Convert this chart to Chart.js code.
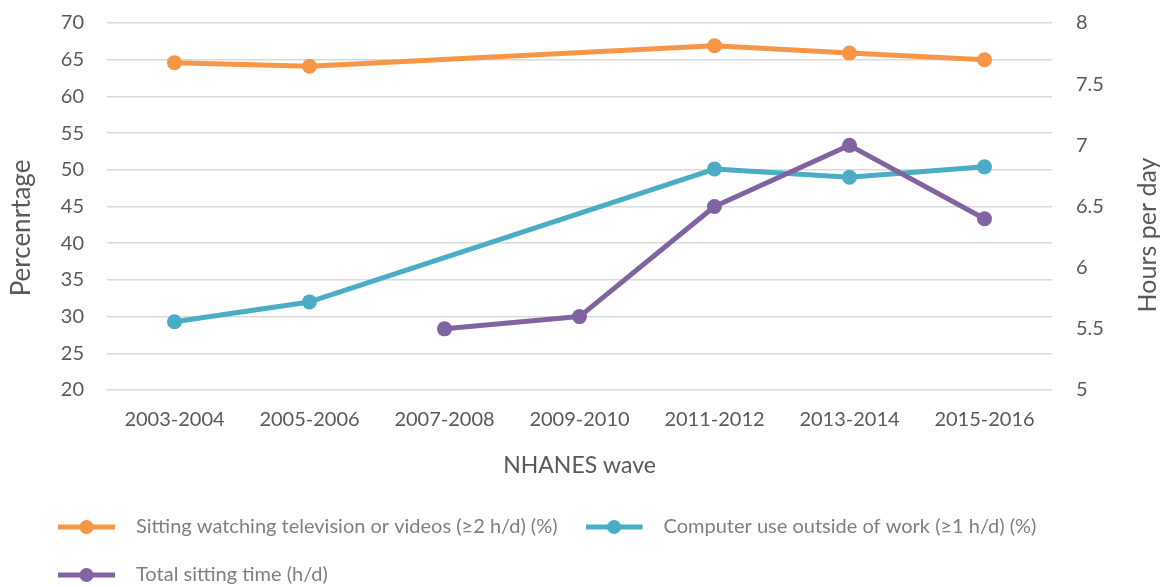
<!DOCTYPE html>
<html>
<head>
<meta charset="utf-8">
<script src="https://cdn.jsdelivr.net/npm/chart.js"></script>
<style>
  html, body { margin: 0; padding: 0; background: #fff; }
</style>
</head>
<body>
<canvas id="myChart" width="1167" height="587"></canvas>
<script>
// NHANES waves on the x axis
const waves = ["2003-2004", "2005-2006", "2007-2008", "2009-2010", "2011-2012", "2013-2014", "2015-2016"];

// series (null = not measured in that wave)
const tvPct = [64.6, 64.1, null, null, 66.9, 65.9, 65.0];
const computerPct = [29.3, 32.0, null, null, 50.1, 49.0, 50.4];
const sittingHours = [null, null, 5.5, 5.6, 6.5, 7.0, 6.4];

const seriesNames = [
    "Sitting watching television or videos (\u22652 h/d) (%)",
    "Computer use outside of work (\u22651 h/d) (%)",
    "Total sitting time (h/d)"
];
const seriesColors = ["#F79646", "#4BACC6", "#8064A2"];

// axis ranges / ticks
const pctTicks = [20, 25, 30, 35, 40, 45, 50, 55, 60, 65, 70];
const hourTicks = [5, 5.5, 6, 6.5, 7, 7.5, 8];

const xTitle = "NHANES wave";
const leftTitle = "Percenrtage";
const rightTitle = "Hours per day";

const fontFamily = "Lato, 'Open Sans', sans-serif";
const textGray = "#595959";

// legend icon: line with a dot, like the Excel legend
function legendIcon(color) {
    const c = document.createElement("canvas");
    c.width = 68;
    c.height = 18;
    const g = c.getContext("2d");
    g.strokeStyle = color;
    g.lineWidth = 5;
    g.beginPath();
    g.moveTo(0, 9);
    g.lineTo(57, 9);
    g.stroke();
    g.fillStyle = color;
    g.beginPath();
    g.arc(28.5, 9, 7, 0, Math.PI * 2);
    g.fill();
    return c;
}
const icons = seriesColors.map(legendIcon);

// y axis titles read bottom-to-top on both sides
const yTitles = {
    id: "yTitles",
    afterDraw(chart) {
        const ctx = chart.ctx;
        const area = chart.chartArea;
        const put = (text, size, x, y) => {
            ctx.save();
            ctx.fillStyle = textGray;
            ctx.font = size + "px " + fontFamily;
            ctx.textAlign = "center";
            ctx.textBaseline = "middle";
            ctx.translate(x, y);
            ctx.rotate(-Math.PI / 2);
            ctx.fillText(text, 0, 0);
            ctx.restore();
        };
        put(leftTitle, 26, area.left - 85, area.top + 205);
        put(rightTitle, 25, area.right + 96, area.top + 212);
    }
};

function makeSet(i, data, axis) {
    return {
        label: seriesNames[i],
        data: data,
        yAxisID: axis,
        borderColor: seriesColors[i],
        backgroundColor: seriesColors[i],
        borderWidth: 5,
        borderJoinStyle: "round",
        pointRadius: 7.5,
        pointHoverRadius: 7.5,
        pointBorderWidth: 0,
        pointBackgroundColor: seriesColors[i],
        spanGaps: true,
        tension: 0,
        order: 3 - i
    };
}

new Chart("myChart", {
    type: "line",
    data: {
        labels: waves,
        datasets: [
            makeSet(0, tvPct, "y"),
            makeSet(1, computerPct, "y"),
            makeSet(2, sittingHours, "y1")
        ]
    },
    options: {
        responsive: false,
        animation: false,
        devicePixelRatio: 1,
        layout: { padding: { left: 30, right: 0, top: 23, bottom: -8 } },
        font: { family: fontFamily },
        scales: {
            x: {
                offset: true,
                grid: { display: false },
                border: { display: false },
                ticks: { color: textGray, font: { family: fontFamily, size: 20 }, padding: 10, maxRotation: 0 },
                title: {
                    display: true,
                    text: xTitle,
                    color: textGray,
                    font: { family: fontFamily, size: 23 },
                    padding: { top: 0, bottom: 10 }
                },
                afterFit: s => { s.height = 99; }
            },
            y: {
                position: "left",
                min: pctTicks[0],
                max: pctTicks[pctTicks.length - 1],
                // invisible tick marks give the label gap without padding the chart top
                grid: { color: "#d9d9d9", lineWidth: 1.5, drawTicks: true, tickLength: 23, tickColor: "rgba(0,0,0,0)" },
                border: { display: false },
                ticks: {
                    stepSize: pctTicks[1] - pctTicks[0],
                    color: textGray,
                    font: { family: fontFamily, size: 20 },
                    padding: 0
                },
                afterFit: s => { s.width = 77; }
            },
            y1: {
                position: "right",
                min: hourTicks[0],
                max: hourTicks[hourTicks.length - 1],
                grid: { drawOnChartArea: false, drawTicks: true, tickLength: 24, tickColor: "rgba(0,0,0,0)" },
                border: { display: false },
                ticks: {
                    stepSize: hourTicks[1] - hourTicks[0],
                    color: textGray,
                    font: { family: fontFamily, size: 20 },
                    padding: 0,
                    callback: v => String(+v.toFixed(1))
                },
                afterFit: s => { s.width = 115; }
            }
        },
        plugins: {
            tooltip: { enabled: false },
            legend: {
                position: "bottom",
                align: "start",
                labels: {
                    usePointStyle: true,
                    pointStyleWidth: 68,
                    padding: 28,
                    color: "#7f7f7f",
                    font: { family: fontFamily, size: 20 },
                    sort: (a, b) => a.datasetIndex - b.datasetIndex,
                    generateLabels: chart =>
                        Chart.defaults.plugins.legend.labels.generateLabels(chart).map(item => {
                            item.pointStyle = icons[item.datasetIndex];
                            return item;
                        })
                }
            }
        }
    },
    plugins: [yTitles]
});
</script>
</body>
</html>
